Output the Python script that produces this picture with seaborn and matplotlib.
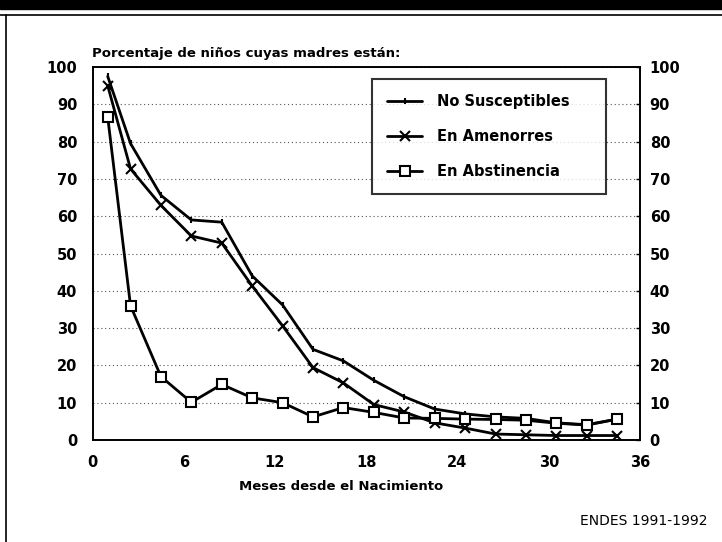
import numpy as np
import pandas as pd
import matplotlib
matplotlib.use("Agg")
import matplotlib.pyplot as plt
from matplotlib.lines import Line2D
from matplotlib.patches import Rectangle
import seaborn as sns

sns.set_style("white")
plt.rcParams['font.family'] = ['DejaVu Sans']
plt.rcParams['text.color'] = 'black'
plt.rcParams['axes.labelcolor'] = 'black'

# ---- data ----
meses = [1, 2.5, 4.5, 6.5, 8.5, 10.5, 12.5, 14.5, 16.5, 18.5,
         20.5, 22.5, 24.5, 26.5, 28.5, 30.5, 32.5, 34.5]
no_susceptibles = [97.5, 79.5, 65.6, 59.0, 58.4, 44.0, 36.2, 24.3, 21.2, 16.0,
                   11.6, 8.3, 7.0, 6.2, 5.8, 4.6, 4.1, 5.6]
en_amenorrea = [95.0, 72.7, 62.9, 54.7, 52.8, 41.3, 30.6, 19.4, 15.3, 9.5,
                7.5, 4.6, 3.2, 1.6, 1.4, 1.2, 1.2, 1.2]
en_abstinencia = [86.6, 36.0, 17.0, 10.1, 14.9, 11.3, 10.0, 6.2, 8.7, 7.4,
                  5.9, 5.8, 5.6, 5.5, 5.3, 4.5, 4.0, 5.6]
series_names = ["No Susceptibles", "En Amenorres", "En Abstinencia"]
x_ticks = [0, 6, 12, 18, 24, 30, 36]
y_ticks = [0, 10, 20, 30, 40, 50, 60, 70, 80, 90, 100]
titulo = "Porcentaje de niños cuyas madres están:"
x_label = "Meses desde el Nacimiento"
fuente = "ENDES 1991-1992"

df = pd.DataFrame({
    "mes": meses * 3,
    "pct": no_susceptibles + en_amenorrea + en_abstinencia,
    "serie": np.repeat(series_names, len(meses)),
})

W, H = 722, 542
fig = plt.figure(figsize=(W / 100, H / 100), dpi=100)
left, right, bottom, top = 92.5 / W, 640 / W, 1 - 440 / H, 1 - 67 / H
ax = fig.add_axes([left, bottom, right - left, top - bottom])

markers = {"No Susceptibles": "|", "En Amenorres": "x", "En Abstinencia": "s"}
msize = {"No Susceptibles": 4, "En Amenorres": 7, "En Abstinencia": 7}
for name in series_names:
    sub = df[df["serie"] == name]
    sns.lineplot(data=sub, x="mes", y="pct", ax=ax, color="black", lw=2.0,
                 marker=markers[name], markersize=msize[name],
                 markerfacecolor="white", markeredgecolor="black",
                 markeredgewidth=1.5, label=name, legend=False)

ax.set_xlim(0, 36)
ax.set_ylim(0, 100)
ax.set_xticks(x_ticks)
ax.set_yticks(y_ticks)
ax.yaxis.grid(True, linestyle=(0, (1, 2.5)), color="#555555", linewidth=0.8)
ax.xaxis.grid(False)
for s in ax.spines.values():
    s.set_color("black")
    s.set_linewidth(1.4)
ax.tick_params(axis="x", direction="out", length=6, width=1.2, pad=5,
               labelsize=10.5, colors="black")
ax.tick_params(axis="y", length=0, pad=11, labelsize=10.5, colors="black")
for lab in ax.get_xticklabels() + ax.get_yticklabels():
    lab.set_fontweight("bold")
ax.set_xlabel(x_label, fontsize=9.5, fontweight="bold")
ax.xaxis.set_label_coords((341 - 92.5) / (640 - 92.5), -(480 - 440) / (440 - 67))
ax.set_ylabel("")

ax2 = ax.twinx()
ax2.set_ylim(0, 100)
ax2.set_yticks(y_ticks)
ax2.tick_params(axis="y", direction="in", length=3, width=1, pad=7,
                labelsize=10.5, colors="black")
for lab in ax2.get_yticklabels():
    lab.set_fontweight("bold")
for s in ax2.spines.values():
    s.set_visible(False)
ax2.grid(False)

fig.text(left, 1 - 54 / H, titulo, fontsize=9.5, fontweight="bold",
         ha="left", va="center")

handles = [Line2D([], [], color="black", lw=2.0, marker=markers[n],
                  markersize=msize[n], markerfacecolor="white",
                  markeredgecolor="black", markeredgewidth=1.5)
           for n in series_names]
leg = fig.legend(handles, series_names, loc="upper left", mode="expand",
                 bbox_to_anchor=(372 / W, 1 - 190 / H, (606 - 372) / W, (190 - 79) / H),
                 frameon=True, fancybox=False, edgecolor="black",
                 prop={"size": 10.5, "weight": "bold"},
                 labelspacing=1.35, handlelength=2.4, handletextpad=1.0,
                 borderpad=1.05, borderaxespad=0)
leg.get_frame().set_linewidth(1.5)
for t in leg.get_texts():
    t.set_color("black")

fig.text(708 / W, 1 - 521 / H, fuente, fontsize=10, ha="right", va="center")

# page decorations: top black band, rule, left border
fig.patches.append(Rectangle((0, 1 - 9 / H), 1, 9 / H, transform=fig.transFigure,
                             color="black", zorder=0))
fig.lines.append(Line2D([0, 1], [1 - 15 / H, 1 - 15 / H], transform=fig.transFigure,
                        color="black", lw=1.2))
fig.lines.append(Line2D([6 / W, 6 / W], [0, 1 - 15 / H], transform=fig.transFigure,
                        color="black", lw=1.2))

fig.savefig("out.png", dpi=100)
